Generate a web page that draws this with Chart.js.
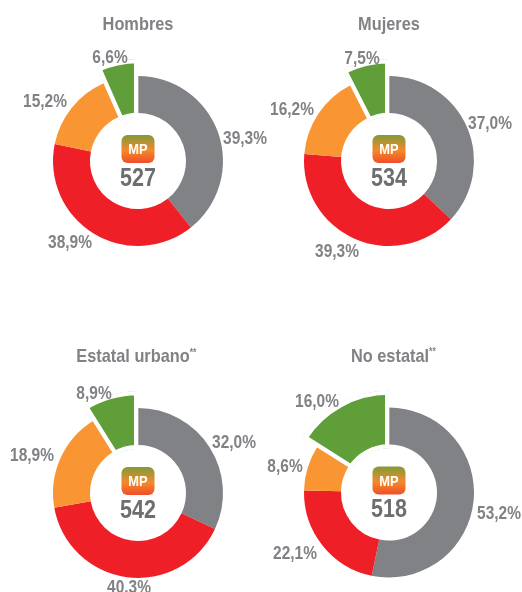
<!DOCTYPE html>
<html lang="es">
<head>
<meta charset="utf-8">
<title>Medida promedio</title>
<script src="https://cdn.jsdelivr.net/npm/chart.js@4"></script>
<style>
    html, body { margin: 0; padding: 0; background: #fff; overflow: hidden; }
    body { width: 522px; height: 592px; position: relative; }
    canvas { position: absolute; }
</style>
</head>
<body>
<canvas id="c0"></canvas>
<canvas id="c1"></canvas>
<canvas id="c2"></canvas>
<canvas id="c3"></canvas>
<script>
// Datos
const titulos = ['Hombres', 'Mujeres', 'Estatal urbano', 'No estatal'];
const notas = ['', '', '**', '**'];
const puntajes = [527, 534, 542, 518];
const hombres = [39.3, 38.9, 15.2, 6.6];
const mujeres = [37.0, 39.3, 16.2, 7.5];
const estatalUrbano = [32.0, 40.3, 18.9, 8.9];
const noEstatal = [53.2, 22.1, 8.6, 16.0];
const series = [hombres, mujeres, estatalUrbano, noEstatal];
const colores = ['#808285', '#ee1f27', '#f99533', '#5f9e38'];

// Posicion de cada etiqueta respecto al centro del anillo
const posEtiquetas = [
    [[107, -23], [-68, 81], [-93, -60], [-28, -104]],
    [[101, -38], [-52, 90], [-97, -52], [-27, -103]],
    [[96, -51], [-9, 94], [-106, -38], [-44, -100]],
    [[110, 21], [-94, 61], [-104, -26], [-72, -91]]
];
const despTitulo = [0, 0, -5, 1];
// Centro del anillo en la pagina
const centros = [[138, 161], [389, 161], [138, 493], [389, 492.5]];
const ANCHO = 266, ALTO = 296, LADO = 170;
const FUENTE = '"Liberation Sans", sans-serif';
const ESCALA = 0.86; // letra condensada

// El ultimo sector sobresale: el borde blanco (hacia dentro) se come 4px por cada lado
const sectorPlugin = {
    id: 'sector',
    beforeDatasetsDraw(chart) {
        const arco = chart.getDatasetMeta(0).data[3];
        arco.outerRadius = 102;
        arco.innerRadius = 44;
    }
};

function texto(ctx, str, x, y, align) {
    ctx.save();
    ctx.translate(x, y);
    ctx.scale(ESCALA, 1);
    ctx.textAlign = align || 'center';
    ctx.textBaseline = 'middle';
    ctx.fillText(str, 0, 0);
    ctx.restore();
}

const textosPlugin = {
    id: 'textos',
    afterDraw(chart, args, opts) {
        const ctx = chart.ctx;
        const cx = chart.chartArea.left + chart.chartArea.width / 2;
        const cy = chart.chartArea.top + chart.chartArea.height / 2;
        ctx.save();

        // Titulo con nota en superindice
        ctx.font = 'bold 19px ' + FUENTE;
        ctx.fillStyle = '#808285';
        const tx = cx + opts.despTitulo;
        const w = ctx.measureText(opts.titulo).width * ESCALA;
        texto(ctx, opts.titulo, tx, cy - 136);
        if (opts.nota) {
            ctx.font = 'bold 10px ' + FUENTE;
            texto(ctx, opts.nota, tx + w / 2, cy - 140, 'left');
        }

        // Porcentajes
        ctx.font = 'bold 18px ' + FUENTE;
        chart.data.datasets[0].data.forEach((valor, i) => {
            const p = opts.etiquetas[i];
            texto(ctx, valor.toFixed(1).replace('.', ',') + '%', cx + p[0], cy + p[1] + 1);
        });

        // Insignia MP
        const grad = ctx.createLinearGradient(0, cy - 26, 0, cy + 2);
        grad.addColorStop(0, '#7f9b38');
        grad.addColorStop(0.55, '#f5892b');
        grad.addColorStop(1, '#f04e29');
        ctx.fillStyle = grad;
        ctx.beginPath();
        ctx.roundRect(cx - 16.5, cy - 26, 33, 28, 6);
        ctx.fill();
        ctx.fillStyle = '#fff';
        ctx.font = 'bold 15px ' + FUENTE;
        texto(ctx, 'MP', cx, cy - 11);

        // Puntaje
        ctx.fillStyle = '#6d6e71';
        ctx.font = 'bold 25px ' + FUENTE;
        texto(ctx, String(opts.puntaje), cx, cy + 18);
        ctx.restore();
    }
};

function crearAnillo(i) {
    const canvas = document.getElementById('c' + i);
    const left = centros[i][0] - ANCHO / 2;
    const top = i < 2 ? 0 : ALTO;
    canvas.style.left = left + 'px';
    canvas.style.top = top + 'px';
    canvas.style.width = ANCHO + 'px';
    canvas.style.height = ALTO + 'px';
    canvas.width = ANCHO;
    canvas.height = ALTO;

    const arriba = centros[i][1] - top - LADO / 2;
    const lateral = (ANCHO - LADO) / 2;

    new Chart(canvas.getContext('2d'), {
        type: 'doughnut',
        plugins: [sectorPlugin, textosPlugin],
        data: {
            labels: ['Nivel 1', 'Nivel 2', 'Nivel 3', 'Nivel 4'],
            datasets: [{
                data: series[i],
                backgroundColor: colores,
                borderColor: '#fff',
                borderWidth: [0, 0, 0, 4],
                borderAlign: ['center', 'center', 'center', 'inner'],
                clip: false
            }]
        },
        options: {
            responsive: false,
            animation: false,
            cutout: '56.5%',
            layout: {
                padding: { top: arriba, bottom: ALTO - arriba - LADO, left: lateral, right: lateral }
            },
            plugins: {
                legend: { display: false },
                tooltip: { enabled: false },
                textos: {
                    titulo: titulos[i],
                    nota: notas[i],
                    puntaje: puntajes[i],
                    etiquetas: posEtiquetas[i],
                    despTitulo: despTitulo[i]
                }
            }
        }
    });
}

titulos.forEach((t, i) => crearAnillo(i));
</script>
</body>
</html>
